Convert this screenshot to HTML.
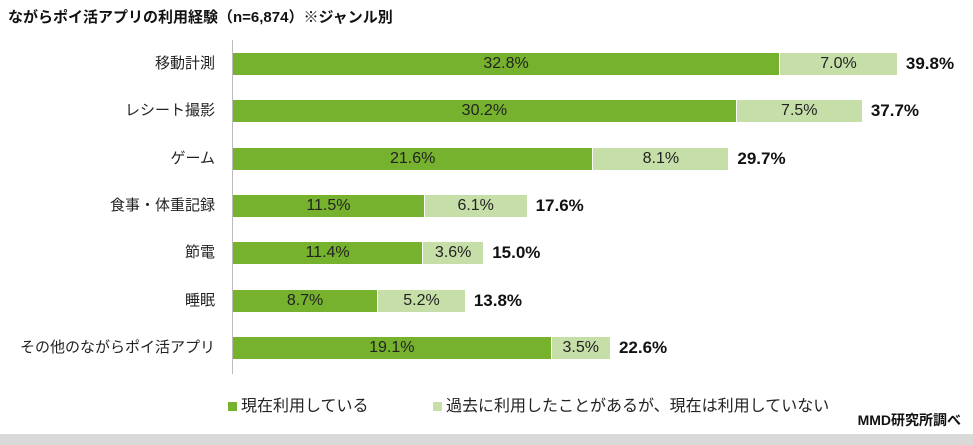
<!DOCTYPE html><html><head><meta charset="utf-8"><style>
body{margin:0;width:973px;height:445px;background:#fff;position:relative;overflow:hidden;font-family:"Liberation Sans","Noto Sans CJK JP",sans-serif;}
div{position:absolute;}
#c{left:0;top:0;width:973px;height:445px;}
.t{left:8px;top:6px;font-size:15px;font-weight:bold;color:#111;}
.ax{left:232px;top:40px;width:1px;height:334px;background:#bbb;}
.lab{right:758px;font-size:15px;color:#222;text-align:right;white-space:nowrap;line-height:22px;}
.b1{background:#76b22d;color:#222;font-size:16px;text-align:center;line-height:22px;height:22px;}
.b2{background:#c6dfa8;color:#222;font-size:16px;text-align:center;line-height:22px;height:22px;}
.tot{font-size:17px;font-weight:bold;color:#111;line-height:22px;}
.leg{top:392px;font-size:16px;color:#222;}
.sq{display:inline-block;width:9px;height:9px;margin-right:4px;}
</style></head><body>
<div class="t">ながらポイ活アプリの利用経験（n=6,874）※ジャンル別</div>
<div class="ax"></div>
<div id="c"></div>
<script>
var d=[["移動計測",32.8,7.0,"39.8"],["レシート撮影",30.2,7.5,"37.7"],["ゲーム",21.6,8.1,"29.7"],["食事・体重記録",11.5,6.1,"17.6"],["節電",11.4,3.6,"15.0"],["睡眠",8.7,5.2,"13.8"],["その他のながらポイ活アプリ",19.1,3.5,"22.6"]];
var s=16.68,h="",x0=233;
d.forEach(function(r,i){var y=Math.round(53+i*47.3);var w1=r[1]*s,w2=r[2]*s;
h+='<div class="lab" style="top:'+y+'px">'+r[0]+'</div>';
h+='<div class="b1" style="left:'+x0+'px;top:'+y+'px;width:'+(w1-1)+'px">'+r[1].toFixed(1)+'%</div>';
h+='<div class="b2" style="left:'+(x0+w1)+'px;top:'+y+'px;width:'+w2+'px">'+r[2].toFixed(1)+'%</div>';
h+='<div class="tot" style="left:'+(x0+w1+w2+9)+'px;top:'+y+'px">'+r[3]+'%</div>';});
document.getElementById("c").innerHTML=h;
</script>
<div class="leg" style="left:228px"><span class="sq" style="background:#76b22d"></span>現在利用している</div>
<div class="leg" style="left:433px"><span class="sq" style="background:#c6dfa8"></span>過去に利用したことがあるが、現在は利用していない</div>
<div style="right:12px;top:410px;font-size:14px;font-weight:bold;color:#111">MMD研究所調べ</div>
<div style="left:0;top:434px;width:973px;height:11px;background:#d9d9d9"></div>
</body></html>
